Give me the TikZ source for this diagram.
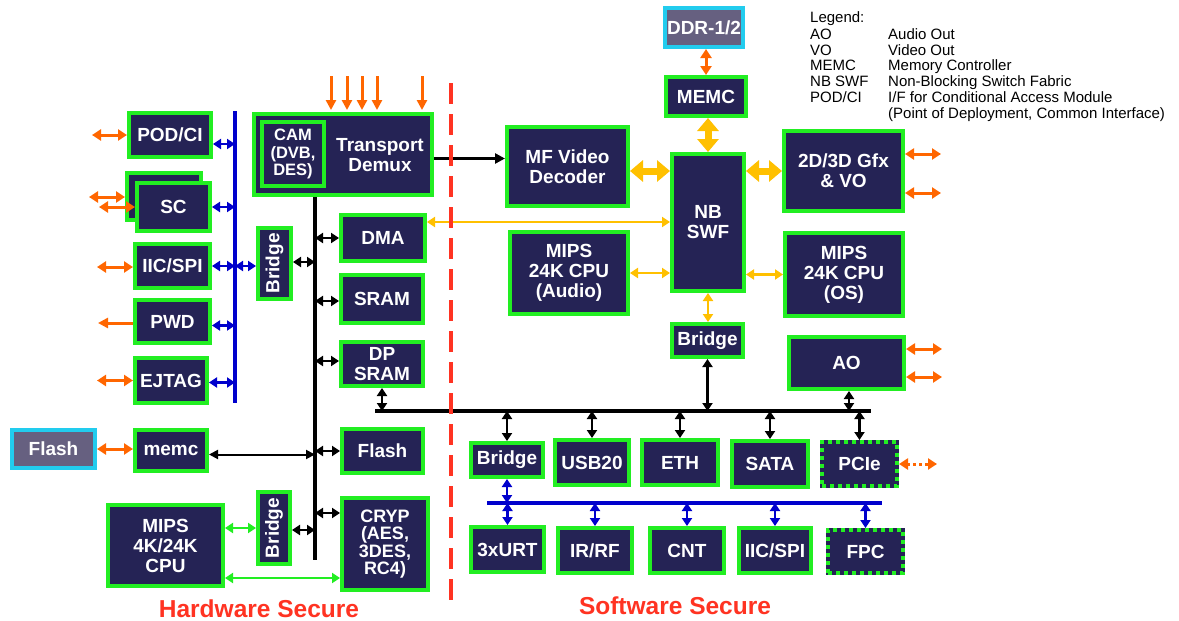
\documentclass[tikz,border=0pt]{standalone}
\usepackage{fontspec}
\setmainfont{Liberation Sans}
\usetikzlibrary{arrows.meta,calc}
\definecolor{navy}{RGB}{37,35,85}
\definecolor{gr}{RGB}{34,238,34}
\definecolor{org}{RGB}{255,102,0}
\definecolor{ylw}{RGB}{255,192,0}
\definecolor{blu}{RGB}{0,0,204}
\definecolor{cyn}{RGB}{34,204,238}
\definecolor{ddrfill}{RGB}{102,96,128}
\definecolor{redd}{RGB}{255,51,34}
\newcommand\mybox[7][]{\node[box,minimum width={(#5-#3-4)*1pt},minimum height={(#6-#4-4)*1pt},#1] (#2) at ({(#3+#5)/2},{(#4+#6)/2}) {#7};}
\tikzset{
  box/.style={draw=gr, line width=4pt, fill=navy, text=white, align=center, inner sep=0pt,
    font=\fontsize{19}{20}\selectfont\bfseries},
  mem/.style={draw=cyn, fill=ddrfill},
  dotbox/.style={draw=navy, postaction={draw=gr, line width=4pt, dash pattern=on 4pt off 4pt}},
  oarr/.style={draw=org, line width=3pt, arrows={Triangle[length=9pt,width=11pt]-Triangle[length=9pt,width=11pt]}},
  oarr1/.style={draw=org, line width=3pt, arrows={-Triangle[length=10pt,width=10pt]}},
  oarrD/.style={oarr, dash pattern=on 3pt off 3pt},
  barr/.style={draw=blu, line width=2.5pt, arrows={Triangle[length=8pt,width=10pt]-Triangle[length=8pt,width=10pt]}},
  karr/.style={draw=black, line width=2.5pt, arrows={Triangle[length=8pt,width=10pt]-Triangle[length=8pt,width=10pt]}},
  karrL/.style={draw=black, line width=2pt, arrows={Triangle[length=9pt,width=9pt]-Triangle[length=9pt,width=9pt]}},
  karr1/.style={draw=black, line width=2.5pt, arrows={-Triangle[length=10pt,width=10pt]}},
  yarrT/.style={draw=ylw, line width=7pt, arrows={Triangle[length=13pt,width=21pt]-Triangle[length=13pt,width=21pt]}},
  yarr/.style={draw=ylw, line width=2.5pt, arrows={Triangle[length=8pt,width=10pt]-Triangle[length=8pt,width=10pt]}},
  garr/.style={draw=gr, line width=2.5pt, arrows={Triangle[length=8pt,width=10pt]-Triangle[length=8pt,width=10pt]}},
  leg/.style={font=\fontsize{15}{15.6}\selectfont, inner sep=0pt, anchor=base west},
  zone/.style={text=redd, font=\fontsize{24.5}{26}\selectfont\bfseries, inner sep=0pt}
}
\begin{document}
\begin{tikzpicture}[x=1pt,y=-1pt]
\fill[white] (0,0) rectangle (1179,621);
\useasboundingbox (0,0) rectangle (1179,621);

% buses
\coordinate (vbT) at (235,111); \coordinate (vbB) at (235,403);
\coordinate (kbB) at (315,560);
\coordinate (hbL) at (375,411); \coordinate (hbR) at (871,411);
\coordinate (bbL) at (487,503); \coordinate (bbR) at (882,503);

% left column
\mybox{podci}{127}{111}{213}{159}{POD/CI}
\mybox{scb}{125}{171}{203}{222}{}
\mybox{sc}{135}{181}{212}{233}{SC}
\mybox{iicA}{133}{242}{212}{290}{IIC/SPI}
\mybox{pwd}{133}{298}{212}{345}{PWD}
\mybox{ejtag}{133}{356}{209}{405}{EJTAG}
\mybox[mem]{flashL}{10}{428}{97}{470}{Flash}
\mybox{memcL}{133}{428}{209}{473}{memc}
\mybox{mips4k}{106}{503}{225}{588}{MIPS\\4K/24K\\CPU}
\mybox{brA}{256}{226}{293}{301}{\rotatebox{90}{Bridge}}
\mybox{brB}{256}{490}{292}{566}{\rotatebox{90}{Bridge}}
\mybox{td}{252}{112}{434}{197}{}
\node[text=white, align=center, inner sep=0pt, font=\fontsize{19}{20}\selectfont\bfseries] (tdlabel) at (380,155) {Transport\\Demux};
\mybox[font=\fontsize{16.5}{17.5}\selectfont\bfseries]{cam}{260}{120}{326}{188}{CAM\\(DVB,\\DES)}
\mybox{dma}{339}{213}{427}{263}{DMA}
\mybox{sram}{339}{273}{425}{325}{SRAM}
\mybox{dpsram}{339}{340}{425}{388}{DP\\SRAM}
\mybox{flashR}{340}{427}{425}{475}{Flash}
\mybox[font=\fontsize{18}{17.3}\selectfont\bfseries]{cryp}{340}{496}{430}{592}{CRYP\\(AES,\\3DES,\\RC4)}

% right side
\mybox[mem]{ddr}{663}{6}{745}{49}{DDR-1/2}
\mybox{memcR}{664}{75}{748}{118}{MEMC}
\mybox{mfvd}{505}{125}{630}{208}{MF Video\\Decoder}
\mybox{nb}{670}{152}{746}{293}{NB\\SWF}
\mybox{gfx}{782}{129}{905}{213}{2D/3D Gfx\\\& VO}
\mybox{mipsA}{508}{230}{630}{316}{MIPS\\24K CPU\\(Audio)}
\mybox{mipsOS}{783}{231}{905}{318}{MIPS\\24K CPU\\(OS)}
\mybox{brM}{670}{322}{745}{359}{Bridge}
\mybox{ao}{787}{335}{906}{391}{AO}
\mybox{brL}{469}{441}{545}{479}{Bridge}
\mybox{usb}{553}{438}{631}{487}{USB20}
\mybox{eth}{640}{438}{720}{487}{ETH}
\mybox{sata}{730}{439}{810}{489}{SATA}
\mybox[dotbox]{pcie}{820}{440}{899}{488}{PCIe}
\mybox{urt}{469}{525}{546}{574}{3xURT}
\mybox{irrf}{556}{526}{634}{575}{IR/RF}
\mybox{cnt}{648}{526}{726}{575}{CNT}
\mybox{iicB}{737}{526}{813}{575}{IIC/SPI}
\mybox[dotbox]{fpc}{826}{528}{905}{575}{FPC}

% bus lines
\draw[blu, line width=3.5pt] (vbT) -- (vbB);
\draw[black, line width=4pt] (td.south -| kbB) -- (kbB);
\draw[black, line width=4pt] (hbL) -- (hbR);
\draw[blu, line width=3.5pt] (bbL) -- (bbR);

% blue connectors (left)
\draw[barr] ($(podci.east)+(0,9)$) -- ($(podci.east -| vbT)+(0,9)$);
\draw[barr] (sc.east) -- (sc.east -| vbT);
\draw[barr] (iicA.east) -- (iicA.east -| vbT);
\draw[barr] (iicA.east -| vbT) -- (iicA.east -| brA.west);
\draw[barr] ($(pwd.east)+(0,4)$) -- ($(pwd.east -| vbT)+(0,4)$);
\draw[barr] ($(ejtag.east)+(0,2)$) -- ($(ejtag.east -| vbT)+(0,2)$);

% orange connectors (left)
\draw[oarr] (podci.west) -- ++(-35,0);
\draw[oarr] ($(scb.west)+(0,0.5)$) -- ++(-36,0);
\draw[oarr] (sc.west) -- ++(-36,0);
\draw[oarr] ($(iicA.west)+(0,1)$) -- ++(-36,0);
\draw[oarr1] ($(pwd.west)+(0,1.5)$) -- ++(-35,0);
\draw[oarr] (ejtag.west) -- ++(-36,0);
\draw[oarr] (flashL.east) -- (flashL.east -| memcL.west);

% black connectors (left)
\draw[karr] (dma.west -| kbB) -- (dma.west);
\draw[karr] ($(brA.east)+(0,-1.5)$) -- ($(brA.east -| kbB)+(0,-1.5)$);
\draw[karr] ($(sram.west -| kbB)+(0,2)$) -- ($(sram.west)+(0,2)$);
\draw[karr] ($(dpsram.west -| kbB)+(0,-3)$) -- ($(dpsram.west)+(0,-3)$);
\draw[karr] (flashR.west -| kbB) -- (flashR.west);
\draw[karr] ($(cryp.west -| kbB)+(0,-31)$) -- ($(cryp.west)+(0,-31)$);
\draw[karr] ($(brB.east)+(0,2)$) -- ($(brB.east -| kbB)+(0,2)$);
\draw[karrL] ($(memcL.east)+(0,4)$) -- ($(memcL.east -| kbB)+(0,4)$);
\draw[karr] (dpsram.south) -- (dpsram.south |- hbL);
\draw[karr1] ($(td.east)+(0,4)$) -- ($(td.east -| mfvd.west)+(0,4)$);

% green connectors
\draw[garr] ($(mips4k.east)+(0,-17.5)$) -- ($(mips4k.east -| brB.west)+(0,-17.5)$);
\draw[garr] ($(mips4k.east)+(0,32.5)$) -- ($(mips4k.east -| cryp.west)+(0,32.5)$);

% orange inputs to transport demux
\foreach \x in {331,347,362,377,422} \draw[oarr1] (\x,76) -- (\x,110);

% right side connectors
\draw[karr] (brM.south) -- (brM.south |- hbL);
\draw[karr] ($(ao.south)+(2.5,0)$) -- ($(ao.south |- hbL)+(2.5,0)$);
\foreach \n in {brL,usb,eth,sata,pcie} \draw[karr] (\n.north |- hbL) -- (\n.north);
\draw[barr] (brL.south) -- (brL.south |- bbL);
\foreach \n in {urt,irrf,cnt,iicB,fpc} \draw[barr] (\n.north |- bbL) -- (\n.north);

\draw[yarrT] (nb.north |- memcR.south) -- (nb.north);
\draw[yarrT] ($(mfvd.east)+(0,4.5)$) -- ($(mfvd.east -| nb.west)+(0,4.5)$);
\draw[yarrT] (gfx.west -| nb.east) -- (gfx.west);
\draw[yarr] ($(dma.east)+(0,-16)$) -- ($(dma.east -| nb.west)+(0,-16)$);
\draw[yarr] (mipsA.east) -- (mipsA.east -| nb.west);
\draw[yarr] (nb.east |- mipsOS.west) -- (mipsOS.west);
\draw[yarr] (nb.south) -- (nb.south |- brM.north);

\draw[oarr] (memcR.north |- ddr.south) -- (memcR.north);
\draw[oarr] ($(gfx.east)+(0,-17)$) -- ++(36,0);
\draw[oarr] ($(gfx.east)+(0,22)$) -- ++(36,0);
\draw[oarr] ($(ao.east)+(0,-14)$) -- ++(36,0);
\draw[oarr] ($(ao.east)+(0,14)$) -- ++(36,0);
\draw[oarrD] (pcie.east) -- ++(38,0);

% dividing line
\draw[redd, line width=4pt, dash pattern=on 21pt off 10pt] (451,83) -- (451,600);

% zone labels
\node[zone] (hw) at (259,609) {Hardware Secure};
\node[zone] (sw) at (675,606) {Software Secure};

% legend
\node[leg] (lg0) at (810,23) {Legend:};
\node[leg] (lg1a) at (810,39.5) {AO};
\node[leg] (lg1b) at (888,39.5) {Audio Out};
\node[leg] (lg2a) at (810,55.2) {VO};
\node[leg] (lg2b) at (888,55.2) {Video Out};
\node[leg] (lg3a) at (810,70.9) {MEMC};
\node[leg] (lg3b) at (888,70.9) {Memory Controller};
\node[leg] (lg4a) at (810,86.6) {NB SWF};
\node[leg] (lg4b) at (888,86.6) {Non-Blocking Switch Fabric};
\node[leg] (lg5a) at (810,102.3) {POD/CI};
\node[leg] (lg5b) at (888,102.3) {I/F for Conditional Access Module};
\node[leg] (lg6b) at (888,118) {(Point of Deployment, Common Interface)};
\end{tikzpicture}
\end{document}
